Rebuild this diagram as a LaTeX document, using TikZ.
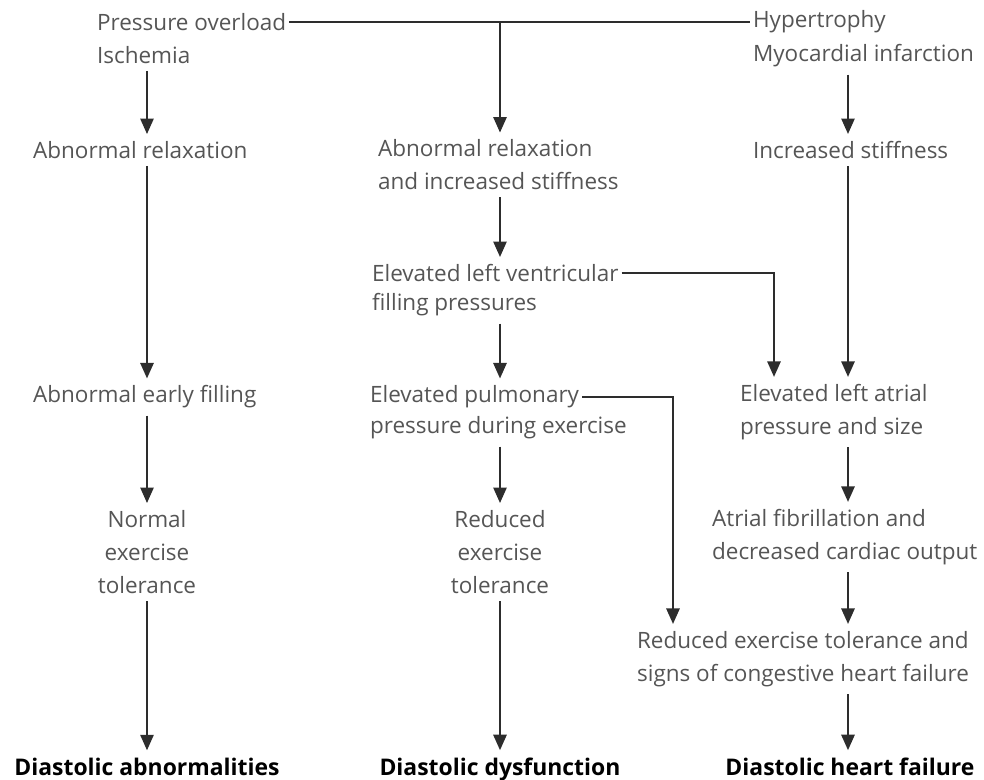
\documentclass[tikz,border=0pt]{standalone}
\usepackage{fontspec}
\setmainfont{Open Sans}
\usetikzlibrary{arrows.meta}
\definecolor{txtgray}{RGB}{85,85,85}
\definecolor{lngray}{RGB}{45,45,45}
\tikzset{
  lbl/.style={inner xsep=2pt, inner ysep=5pt, text=txtgray, font=\fontsize{16}{23.5}\selectfont},
  outcome/.style={lbl, text=black, anchor=base, font=\fontsize{16.3}{23.5}\selectfont\bfseries},
  ln/.style={draw=lngray, line width=1.2pt},
  arr/.style={ln, -{Triangle[width=9.5pt,length=11pt]}},
}
\begin{document}
\begin{tikzpicture}[x=0.25mm,y=-0.25mm]
  \useasboundingbox (0,0) rectangle (984,780);
  % columns
  \coordinate (colA) at (147,0);
  \coordinate (colB) at (500,0);
  \coordinate (colC) at (848,0);
  \coordinate (colD) at (774,0);
  \coordinate (colE) at (673,0);
  % causes
  \node[lbl,anchor=west] (po) at (94,22) {Pressure overload};
  \node[lbl,anchor=west] (isch) at (94,55) {Ischemia};
  \node[lbl,anchor=west] (hyp) at (750,22) {Hypertrophy};
  \node[lbl,anchor=west] (myo) at (750,56) {Myocardial infarction};
  % left column
  \node[lbl,anchor=west] (rel) at (30,150) {Abnormal relaxation};
  \node[lbl,anchor=west] (early) at (30,397) {Abnormal early filling};
  \node[lbl,align=center] (normal) at (147,552) {Normal\\exercise\\tolerance};
  \node[outcome] (dabn) at (147,775) {Diastolic abnormalities};
  % middle column
  \node[lbl,anchor=west,align=left] (mrel) at (375,165) {Abnormal relaxation\\and increased stiffness};
  \node[lbl,anchor=west] (lvfpA) at (369,273) {Elevated left ventricular};
  \node[lbl,anchor=west] (lvfpB) at (369,305) {filling pressures};
  \node[lbl,anchor=west] (pulmA) at (367,397) {Elevated pulmonary};
  \node[lbl,anchor=west] (pulmB) at (367,428) {pressure during exercise};
  \node[lbl,align=center] (redex) at (500,552) {Reduced\\exercise\\tolerance};
  \node[outcome] (ddys) at (500,775) {Diastolic dysfunction};
  % right column
  \node[lbl,anchor=west] (stiff) at (750,150) {Increased stiffness};
  \node[lbl,anchor=west,align=left] (atr) at (737,412) {Elevated left atrial\\pressure and size};
  \node[lbl,anchor=west,align=left] (afib) at (709,537) {Atrial fibrillation and\\decreased cardiac output};
  \node[lbl,anchor=west,align=left] (cong) at (634,659) {Reduced exercise tolerance and\\signs of congestive heart failure};
  \node[outcome] (dhf) at (850,775) {Diastolic heart failure};

  % top bar
  \draw[ln] (po.east) -- (hyp.west |- po.east);
  \draw[arr] (po.east -| colB) -- (mrel.north -| colB);
  % left
  \draw[arr] (isch.south -| colA) -- (rel.north -| colA);
  \draw[arr] (rel.south -| colA) -- (early.north -| colA);
  \draw[arr] (early.south -| colA) -- (normal.north -| colA);
  \draw[arr] (normal.south -| colA) -- (dabn.north -| colA);
  % middle
  \draw[arr] (mrel.south -| colB) -- (lvfpA.north -| colB);
  \draw[arr] (lvfpB.south -| colB) -- (pulmA.north -| colB);
  \draw[arr] (pulmB.south -| colB) -- (redex.north -| colB);
  \draw[arr] (redex.south -| colB) -- (ddys.north -| colB);
  % cross links
  \draw[arr] (lvfpA.east) -| (atr.north -| colD);
  \draw[arr] (pulmA.east) -| (cong.north -| colE);
  % right
  \draw[arr] (myo.south -| colC) -- (stiff.north -| colC);
  \draw[arr] (stiff.south -| colC) -- (atr.north -| colC);
  \draw[arr] (atr.south -| colC) -- (afib.north -| colC);
  \draw[arr] (afib.south -| colC) -- (cong.north -| colC);
  \draw[arr] (cong.south -| colC) -- (dhf.north -| colC);
\end{tikzpicture}
\end{document}
